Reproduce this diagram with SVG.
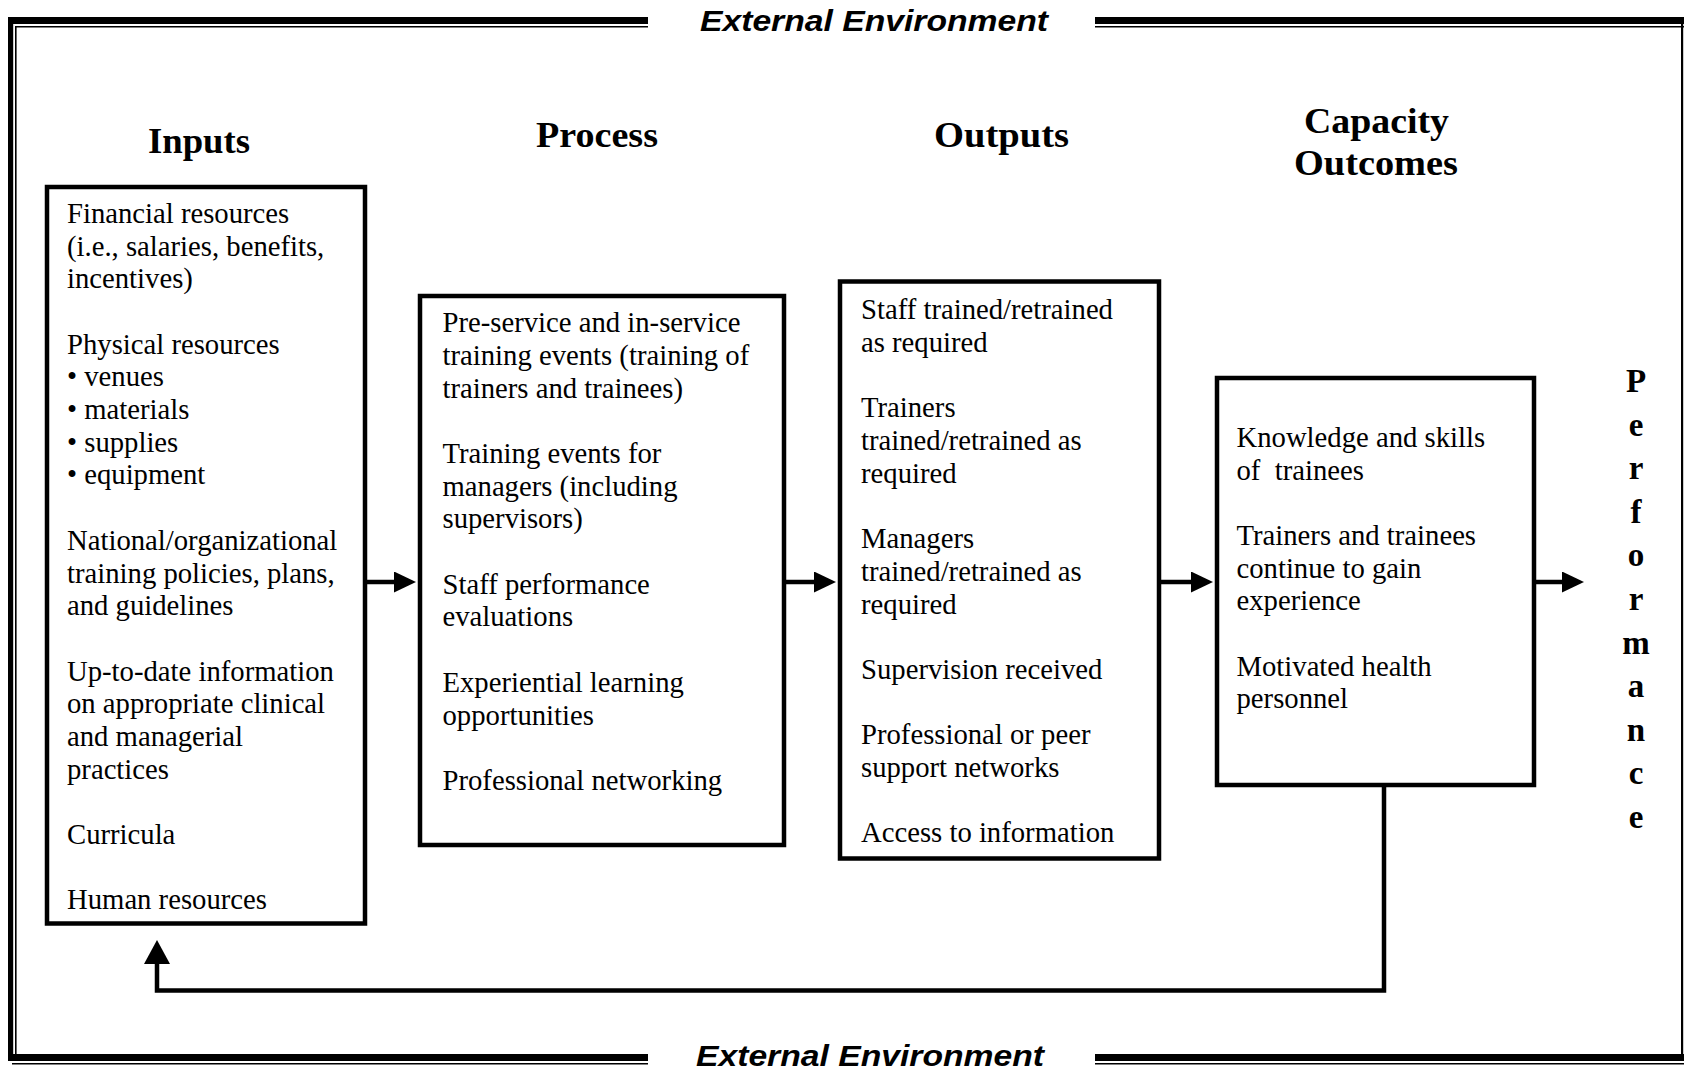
<svg xmlns="http://www.w3.org/2000/svg" width="1684" height="1071" viewBox="0 0 1684 1071">
<style>
.bg{fill:#fff}
.k{fill:#000}
.box{fill:#fff;stroke:#000;stroke-width:4.5}
.conn{fill:none;stroke:#000;stroke-width:4.5}
.body{font-family:"Liberation Serif","Times New Roman",serif;font-size:28.7px;fill:#000}
.head{font-family:"Liberation Serif","Times New Roman",serif;font-size:35px;font-weight:bold;fill:#000}
.perf{font-family:"Liberation Serif","Times New Roman",serif;font-size:33px;font-weight:bold;fill:#000;text-anchor:middle}
.env{font-family:"Liberation Sans",Arial,sans-serif;font-size:29px;font-weight:bold;font-style:italic;fill:#000}
</style>
<defs>
<marker id="ah" markerUnits="userSpaceOnUse" markerWidth="24" markerHeight="22" refX="2" refY="10.5" orient="auto">
<path d="M0,0 L22,10.5 L0,21 z" fill="#000"/>
</marker>
<marker id="ahL" markerUnits="userSpaceOnUse" markerWidth="26" markerHeight="27" refX="2" refY="13" orient="auto">
<path d="M0,0 L24,13 L0,26 z" fill="#000"/>
</marker>
</defs>
<rect class="bg" x="0" y="0" width="1684" height="1071"/>

<g id="frame">
<rect class="k" x="8" y="17" width="640" height="7"/>
<rect class="k" x="15" y="26" width="633" height="1.5"/>
<rect class="k" x="8" y="17" width="5.2" height="1044"/>
<rect class="k" x="15" y="26" width="1.6" height="1028"/>
<rect class="k" x="8" y="1054" width="640" height="7"/>
<rect class="k" x="12" y="1063" width="636" height="1.5"/>
<rect class="k" x="1095" y="17" width="589" height="7"/>
<rect class="k" x="1095" y="26" width="589" height="1.5"/>
<rect class="k" x="1681" y="17" width="2.2" height="1044"/>
<rect class="k" x="1095" y="1054" width="589" height="7"/>
<rect class="k" x="1095" y="1063" width="589" height="1.5"/>
<text class="env" x="700" y="31" textLength="348" lengthAdjust="spacingAndGlyphs">External Environment</text>
<text class="env" x="696" y="1066" textLength="348" lengthAdjust="spacingAndGlyphs">External Environment</text>
</g>

<g id="headings">
<text class="head" x="148" y="153" textLength="102" lengthAdjust="spacingAndGlyphs">Inputs</text>
<text class="head" x="536" y="147" textLength="122" lengthAdjust="spacingAndGlyphs">Process</text>
<text class="head" x="934" y="147" textLength="135" lengthAdjust="spacingAndGlyphs">Outputs</text>
<text class="head" x="1304" y="133" textLength="145" lengthAdjust="spacingAndGlyphs">Capacity</text>
<text class="head" x="1294" y="175" textLength="164" lengthAdjust="spacingAndGlyphs">Outcomes</text>
</g>

<g id="connectors">
<line class="conn" x1="365" y1="582" x2="396" y2="582" marker-end="url(#ah)"/>
<line class="conn" x1="784" y1="582" x2="816" y2="582" marker-end="url(#ah)"/>
<line class="conn" x1="1160" y1="582" x2="1193" y2="582" marker-end="url(#ah)"/>
<line class="conn" x1="1534" y1="582" x2="1564" y2="582" marker-end="url(#ah)"/>
<path class="conn" d="M1384,785 V990.5 H157 V962" marker-end="url(#ahL)"/>
</g>

<g id="inputs">
<rect class="box" x="47" y="187" width="318" height="736.5"/>
<text class="body">
<tspan x="67" y="223">Financial resources</tspan>
<tspan x="67" y="255.7">(i.e., salaries, benefits,</tspan>
<tspan x="67" y="288.4">incentives)</tspan>
<tspan x="67" y="353.7">Physical resources</tspan>
<tspan x="67" y="386.4">• venues</tspan>
<tspan x="67" y="419.1">• materials</tspan>
<tspan x="67" y="451.8">• supplies</tspan>
<tspan x="67" y="484.4">• equipment</tspan>
<tspan x="67" y="549.8">National/organizational</tspan>
<tspan x="67" y="582.5">training policies, plans,</tspan>
<tspan x="67" y="615.2">and guidelines</tspan>
<tspan x="67" y="680.5">Up-to-date information</tspan>
<tspan x="67" y="713.2">on appropriate clinical</tspan>
<tspan x="67" y="745.9">and managerial</tspan>
<tspan x="67" y="778.6">practices</tspan>
<tspan x="67" y="843.9">Curricula</tspan>
<tspan x="67" y="909.3">Human resources</tspan>
</text>
</g>

<g id="process">
<rect class="box" x="420" y="296" width="364" height="549"/>
<text class="body">
<tspan x="442.5" y="332.3">Pre-service and in-service</tspan>
<tspan x="442.5" y="365">training events (training of</tspan>
<tspan x="442.5" y="397.7">trainers and trainees)</tspan>
<tspan x="442.5" y="463">Training events for</tspan>
<tspan x="442.5" y="495.7">managers (including</tspan>
<tspan x="442.5" y="528.4">supervisors)</tspan>
<tspan x="442.5" y="593.7">Staff performance</tspan>
<tspan x="442.5" y="626.4">evaluations</tspan>
<tspan x="442.5" y="691.8">Experiential learning</tspan>
<tspan x="442.5" y="724.5">opportunities</tspan>
<tspan x="442.5" y="789.8">Professional networking</tspan>
</text>
</g>

<g id="outputs">
<rect class="box" x="840" y="281.5" width="319" height="577"/>
<text class="body">
<tspan x="861" y="319.4">Staff trained/retrained</tspan>
<tspan x="861" y="352.1">as required</tspan>
<tspan x="861" y="417.4">Trainers</tspan>
<tspan x="861" y="450.1">trained/retrained as</tspan>
<tspan x="861" y="482.8">required</tspan>
<tspan x="861" y="548.2">Managers</tspan>
<tspan x="861" y="580.8">trained/retrained as</tspan>
<tspan x="861" y="613.5">required</tspan>
<tspan x="861" y="678.9">Supervision received</tspan>
<tspan x="861" y="744.2">Professional or peer</tspan>
<tspan x="861" y="776.9">support networks</tspan>
<tspan x="861" y="842.3">Access to information</tspan>
</text>
</g>

<g id="capacity">
<rect class="box" x="1217" y="378" width="317" height="407"/>
<text class="body" style="white-space:pre">
<tspan x="1236.5" y="447">Knowledge and skills</tspan>
<tspan x="1236.5" y="479.7">of  trainees</tspan>
<tspan x="1236.5" y="545">Trainers and trainees</tspan>
<tspan x="1236.5" y="577.7">continue to gain</tspan>
<tspan x="1236.5" y="610.4">experience</tspan>
<tspan x="1236.5" y="675.8">Motivated health</tspan>
<tspan x="1236.5" y="708.4">personnel</tspan>
</text>
</g>

<g id="performance">
<text class="perf" x="1636" y="392">P</text>
<text class="perf" x="1636" y="435.6">e</text>
<text class="perf" x="1636" y="479.2">r</text>
<text class="perf" x="1636" y="522.8">f</text>
<text class="perf" x="1636" y="566.4">o</text>
<text class="perf" x="1636" y="610">r</text>
<text class="perf" x="1636" y="653.6">m</text>
<text class="perf" x="1636" y="697.2">a</text>
<text class="perf" x="1636" y="740.8">n</text>
<text class="perf" x="1636" y="784.4">c</text>
<text class="perf" x="1636" y="828">e</text>
</g>
</svg>
